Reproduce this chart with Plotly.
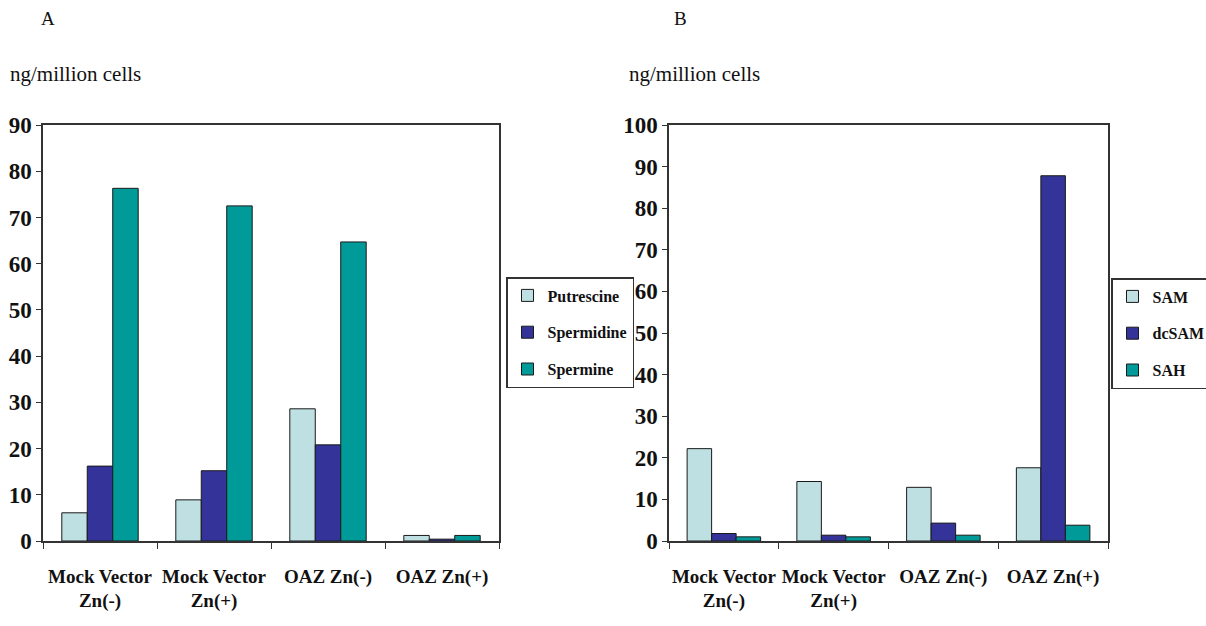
import plotly.graph_objects as go

categories = ["Mock Vector<br>Zn(-)", "Mock Vector<br>Zn(+)", "OAZ Zn(-)", "OAZ Zn(+)"]

# Panel A: polyamines (ng/million cells)
putrescine = [6.1, 8.9, 28.6, 1.2]
spermidine = [16.2, 15.2, 20.8, 0.4]
spermine = [76.3, 72.5, 64.7, 1.2]

# Panel B: SAM metabolites (ng/million cells)
sam = [22.2, 14.3, 12.9, 17.6]
dcsam = [1.8, 1.4, 4.3, 87.8]
sah = [1.0, 1.0, 1.4, 3.8]

names_a = ["Putrescine", "Spermidine", "Spermine"]
names_b = ["SAM", "dcSAM", "SAH"]
colors = ["#BEE0E3", "#333399", "#009A98"]

W, H = 1206, 626
SERIF = "Liberation Serif"

fig = go.Figure()

for name, vals, col in zip(names_a, [putrescine, spermidine, spermine], colors):
    fig.add_trace(go.Bar(
        x=categories, y=vals, name=name, xaxis="x", yaxis="y",
        marker=dict(color=col, line=dict(color="#1a1a1a", width=1)),
        legend="legend", legendgroup="a_" + name,
    ))

for name, vals, col in zip(names_b, [sam, dcsam, sah], colors):
    fig.add_trace(go.Bar(
        x=categories, y=vals, name=name, xaxis="x2", yaxis="y2",
        marker=dict(color=col, line=dict(color="#1a1a1a", width=1)),
        legend="legend2", legendgroup="b_" + name,
    ))

def px_x(p):
    return p / W

def px_y(p):
    return 1 - p / H

y_dom = [px_y(541), px_y(125)]

xaxis_common = dict(
    type="category", showline=True, linecolor="#333333", linewidth=1.5, mirror=True,
    ticks="outside", ticklen=6, tickcolor="#333333", tickson="boundaries",
    tickangle=0, showgrid=False, ticklabelstandoff=17,
    tickfont=dict(family=SERIF, size=19, color="#111111", weight="bold"),
)
yaxis_common = dict(
    showline=True, linecolor="#333333", linewidth=1.5, mirror=True,
    ticks="outside", ticklen=5, tickcolor="#333333", dtick=10,
    showgrid=False, zeroline=False,
    tickfont=dict(family=SERIF, size=23, color="#111111", weight="bold"),
)

legend_common = dict(
    bgcolor="white", bordercolor="#333333", borderwidth=1.5,
    font=dict(family=SERIF, size=16, color="#111111", weight="bold"),
    xanchor="left", yanchor="top", tracegroupgap=13, itemwidth=30,
)

fig.update_layout(
    width=W, height=H,
    margin=dict(l=0, r=0, t=0, b=0, autoexpand=False),
    paper_bgcolor="white", plot_bgcolor="white",
    barmode="group", bargap=0.33, bargroupgap=0,
    xaxis=dict(domain=[px_x(43), px_x(499)], anchor="y", **xaxis_common),
    yaxis=dict(domain=y_dom, anchor="x", range=[0, 90], **yaxis_common),
    xaxis2=dict(domain=[px_x(669), px_x(1108)], anchor="y2", **xaxis_common),
    yaxis2=dict(domain=y_dom, anchor="x2", range=[0, 100], **yaxis_common),
    legend=dict(x=px_x(506), y=px_y(277), **legend_common),
    legend2=dict(x=px_x(1111), y=px_y(278), **legend_common),
    showlegend=True,
    annotations=[
        dict(text="A", x=px_x(48), y=px_y(18), xref="paper", yref="paper",
             showarrow=False, xanchor="center", yanchor="middle",
             font=dict(family=SERIF, size=19, color="#111111")),
        dict(text="B", x=px_x(680), y=px_y(18), xref="paper", yref="paper",
             showarrow=False, xanchor="center", yanchor="middle",
             font=dict(family=SERIF, size=19, color="#111111")),
        dict(text="ng/million cells", x=px_x(8), y=px_y(74), xref="paper", yref="paper",
             showarrow=False, xanchor="left", yanchor="middle",
             font=dict(family=SERIF, size=21, color="#111111")),
        dict(text="ng/million cells", x=px_x(627), y=px_y(74), xref="paper", yref="paper",
             showarrow=False, xanchor="left", yanchor="middle",
             font=dict(family=SERIF, size=21, color="#111111")),
    ],
)

fig.write_html("out.html", config={"displayModeBar": False},
               post_script="document.body.style.margin='0';")
